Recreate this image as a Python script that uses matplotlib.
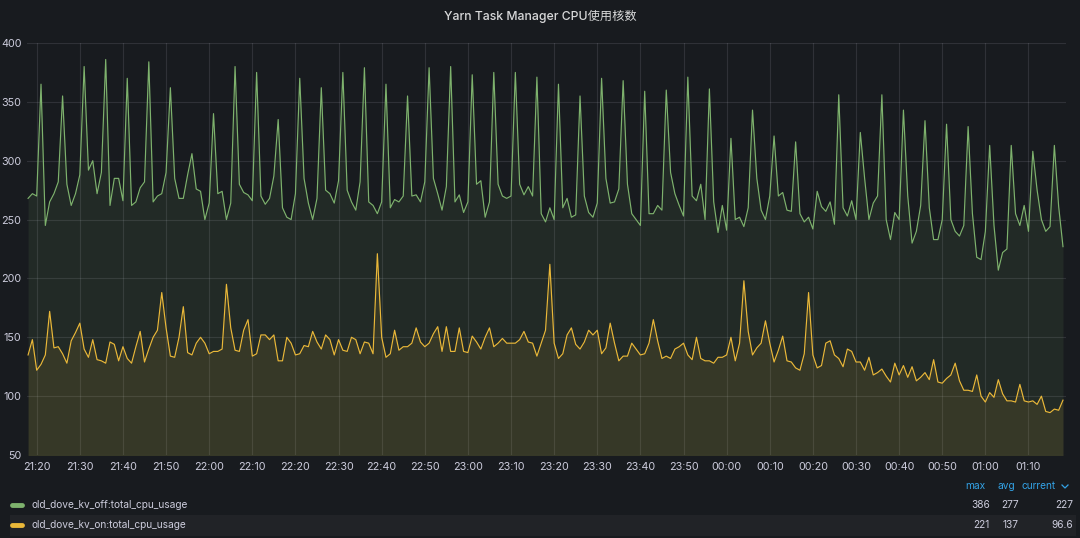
import matplotlib
matplotlib.use('Agg')
import matplotlib.pyplot as plt
import matplotlib.dates as mdates
from matplotlib.lines import Line2D
from matplotlib.patches import Rectangle
import pandas as pd

# ---------------- data ----------------
title = "Yarn Task Manager CPU使用核数"
start_time = "2021-01-01 21:18"
series_names = ["old_dove_kv_off:total_cpu_usage", "old_dove_kv_on:total_cpu_usage"]

kv_off = [
    268, 272, 270, 365, 245, 265, 272, 282, 355, 280, 262, 272,
    288, 380, 292, 300, 272, 290, 386, 262, 285, 285,
    266, 370, 262, 265, 277, 282, 384, 265, 270, 272,
    290, 362, 285, 268, 268, 288, 306, 276,
    274, 250, 264, 340, 272, 274, 250, 264, 380, 280,
    273, 271, 266, 375, 270, 263, 268, 287, 335, 260,
    252, 250, 272, 370, 285, 264, 250, 268, 362, 275,
    272, 264, 283, 375, 275, 265, 258, 282, 379, 265,
    262, 255, 265, 365, 260, 267, 265, 270, 355, 270,
    271, 265, 282, 379, 285, 272, 258, 278, 380, 265,
    271, 256, 265, 373, 280, 283, 252, 265, 375, 280,
    270, 268, 270, 375, 280, 271, 278, 270, 371, 255,
    248, 260, 250, 365, 260, 268, 252, 254, 355, 270,
    256, 252, 264, 370, 285, 264, 265, 276, 368, 280,
    255, 250, 245, 359, 255, 255, 262, 258, 360, 290,
    272, 262, 253, 371, 270, 266, 280, 250, 361, 265,
    239, 262, 241, 319, 250, 252, 244, 260, 343, 285,
    258, 250, 270, 321, 270, 273, 258, 257, 316, 255,
    248, 252, 242, 274, 261, 257, 265, 246, 356, 260,
    253, 266, 250, 324, 285, 250, 264, 270, 356, 250,
    233, 256, 250, 343, 270, 230, 240, 262, 334, 260,
    233, 233, 250, 331, 250, 240, 236, 245, 329, 255,
    218, 216, 240, 313, 245, 207, 222, 225, 313, 255,
    245, 262, 240, 308, 275, 250, 240, 244, 313, 261, 227,
]

kv_on = [
    135, 148, 122, 127, 135, 172, 141, 142, 136, 128, 147, 154,
    162, 140, 133, 148, 131, 130, 128, 146, 144, 130,
    142, 132, 128, 142, 155, 129, 140, 150, 156, 188,
    158, 134, 133, 150, 176, 137, 135, 145,
    150, 145, 136, 138, 138, 140, 195, 158, 139, 138,
    156, 165, 134, 136, 152, 152, 148, 152, 130, 130,
    150, 145, 135, 136, 143, 142, 155, 146, 140, 152,
    148, 135, 148, 139, 138, 150, 148, 136, 146, 145,
    136, 221, 150, 133, 136, 156, 139, 142, 142, 145,
    158, 146, 142, 145, 153, 159, 138, 159, 138, 138,
    158, 138, 137, 151, 146, 140, 150, 158, 142, 145,
    149, 145, 145, 145, 148, 155, 146, 145, 134, 145,
    156, 212, 145, 132, 136, 152, 158, 144, 140, 146,
    156, 152, 156, 136, 141, 162, 145, 130, 134, 134,
    145, 140, 135, 136, 145, 165, 147, 132, 134, 132,
    140, 142, 145, 135, 131, 150, 132, 130, 130, 128,
    133, 133, 135, 150, 130, 145, 198, 155, 135, 141,
    145, 164, 145, 129, 139, 151, 130, 129, 124, 122,
    136, 188, 135, 124, 126, 145, 147, 135, 132, 125,
    140, 138, 129, 129, 122, 133, 118, 120, 123, 117,
    112, 128, 118, 126, 116, 125, 113, 116, 120, 114,
    131, 112, 111, 115, 118, 128, 113, 105, 105, 104,
    118, 100, 95, 103, 99, 114, 102, 96, 96, 95,
    110, 96, 95, 96, 93, 100, 87, 86, 89, 88, 96.6,
]

stat_headers = ["max", "avg", "current"]
stats_off = ["386", "277", "227"]
stats_on = ["221", "137", "96.6"]
y_ticks = [50, 100, 150, 200, 250, 300, 350, 400]

# ---------------- style ----------------
W, H = 1080, 538
bg = "#181b1f"
txt = "#ccccdc"
colors = ["#7eb26d", "#eab839"]
font = ["Inter", "Noto Sans CJK SC", "DejaVu Sans"]
plt.rcParams["font.family"] = font

times = pd.date_range(start_time, periods=len(kv_off), freq="1min")

fig = plt.figure(figsize=(W / 100, H / 100), dpi=100, facecolor=bg)
L, R, T, B = 27, 1066, 43, 455
ax = fig.add_axes([L / W, 1 - B / H, (R - L) / W, (B - T) / H])
ax.set_facecolor(bg)

for vals, c in zip([kv_off, kv_on], colors):
    ax.fill_between(times, vals, 0, color=c, alpha=0.1, lw=0)
    ax.plot(times, vals, color=c, lw=0.85, solid_joinstyle="round")

ax.set_ylim(50, 400)
ax.set_yticks(y_ticks)
ax.set_xlim(times[0] - pd.Timedelta(seconds=15), times[-1] + pd.Timedelta(seconds=42))
ax.xaxis.set_major_locator(mdates.MinuteLocator(byminute=range(0, 60, 10)))
ax.xaxis.set_major_formatter(mdates.DateFormatter("%H:%M"))
ax.grid(True, color="#ccccdc", alpha=0.13, lw=0.8)
ax.set_axisbelow(True)
for s in ax.spines.values():
    s.set_visible(False)
ax.tick_params(axis="both", length=0, colors=txt, labelsize=7.8)
ax.tick_params(axis="x", pad=5)
ax.tick_params(axis="y", pad=4)

# title
fig.text(0.5, 1 - 16 / H, title, ha="center", va="center", fontsize=8.8,
         color="#d8d9da", fontweight="medium")

# legend
def fx(px):
    return px / W

def fy(py):
    return 1 - py / H

fig.patches.append(Rectangle((fx(10), fy(536)), fx(1076) - fx(10), (536 - 515) / H,
                             transform=fig.transFigure, color="#212327", lw=0, zorder=0))

rows_y = [505, 525]
for yy, c, name, stats in zip(rows_y, colors, series_names, [stats_off, stats_on]):
    fig.add_artist(Line2D([fx(12), fx(22)], [fy(yy), fy(yy)], color=c, lw=3.5,
                          solid_capstyle="round", transform=fig.transFigure))
    fig.text(fx(31), fy(yy), name, ha="left", va="center", fontsize=7.3, color=txt)
    for xr, s in zip([990, 1019, 1073], stats):
        fig.text(fx(xr), fy(yy), s, ha="right", va="center", fontsize=7.3, color=txt)

hdr_blue = "#33a2e5"
fig.text(fx(985), fy(486), stat_headers[0], ha="right", va="center", fontsize=7.3, color=hdr_blue)
fig.text(fx(1015), fy(486), stat_headers[1], ha="right", va="center", fontsize=7.3, color=hdr_blue)
fig.text(fx(1022), fy(486), stat_headers[2], ha="left", va="center", fontsize=7.3, color=hdr_blue)
fig.add_artist(Line2D([fx(1062), fx(1065), fx(1068)], [fy(485), fy(488), fy(485)],
                      color=hdr_blue, lw=0.9, transform=fig.transFigure))

fig.savefig("out.png", dpi=100, facecolor=bg)
